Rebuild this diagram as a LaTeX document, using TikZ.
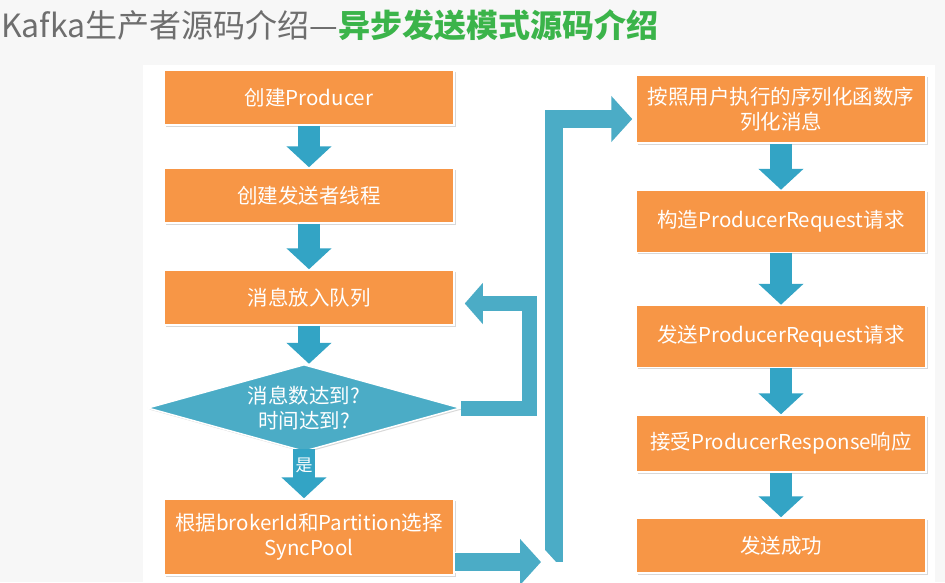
\documentclass[tikz,border=0pt]{standalone}
\usepackage{fontspec}
\setmainfont{Noto Sans CJK SC}
\usetikzlibrary{positioning}
\usetikzlibrary{shapes.geometric}
\usetikzlibrary{arrows.meta}
\usetikzlibrary{shadows}
\definecolor{boxorange}{HTML}{F79646}
\definecolor{flowblue}{HTML}{4BACC6}
\definecolor{arrowblue}{HTML}{33A4C5}
\definecolor{titlegreen}{HTML}{3BB44A}
\definecolor{titlegray}{HTML}{6E6E6E}
\definecolor{pagegray}{HTML}{F7F7F7}
\tikzset{stepbox/.style={rectangle,fill=boxorange,draw=white,line width=1.5pt,minimum width=290pt,minimum height=55pt,inner sep=2pt,align=center,text=white,font=\fontsize{20.5}{24.5}\selectfont,drop shadow={shadow xshift=1.5pt,shadow yshift=-1.5pt,opacity=0.3}}}
\tikzset{decision/.style={diamond,aspect=3.5,fill=flowblue,draw=white,line width=1.5pt,minimum width=313pt,minimum height=87pt,inner sep=0pt,align=center,text=white,font=\fontsize{20.5}{24.5}\selectfont,drop shadow={shadow xshift=1.5pt,shadow yshift=-1.5pt,opacity=0.3}}}
\tikzset{flow/.style={draw=arrowblue,line width=22pt,-{Triangle[width=44pt,length=21pt]}}}
\tikzset{loopback/.style={draw=flowblue,line width=15pt,line join=miter,-{Triangle[width=40pt,length=18pt]},shorten >=10pt,preaction={draw=white,line width=18pt,-{Triangle[width=46pt,length=21pt]},shorten >=8pt}}}
\tikzset{bus/.style={draw=flowblue,line width=18pt,preaction={draw=white,line width=21pt}}}
\tikzset{busarrow/.style={draw=flowblue,line width=18pt,-{Triangle[width=45pt,length=21pt]},preaction={draw=white,line width=21pt,-{Triangle[width=51pt,length=24pt]},shorten >=-2pt}}}

\begin{document}
\begin{tikzpicture}[x=1pt,y=1pt]
\useasboundingbox (0,0) rectangle (945,-582);
\fill[pagegray] (0,0) rectangle (945,-582);
\fill[white] (143,-65) rectangle (935,-582);

\node[anchor=west,inner sep=0pt,font=\fontsize{32}{36}\selectfont] (title) at (1,-25)
  {\textcolor{titlegray}{Kafka生产者源码介绍—}\textcolor{titlegreen}{\bfseries 异步发送模式源码介绍}};

\begin{scope}[on grid]
% left column
\node[stepbox] (create) at (309,-97.5) {创建Producer};
\node[stepbox, below=98pt of create] (sender) {创建发送者线程};
\node[stepbox, below=102pt of sender] (enqueue) {消息放入队列};
\node[decision, below=110.5pt of enqueue, xshift=-5pt] (check) {消息数达到?\\时间达到?};
\node[stepbox, minimum height=76pt, below=129pt of check, xshift=5pt] (choose) {根据brokerId和Partition选择\\SyncPool};

% right column
\node[stepbox, minimum height=68pt] (serial) at (781,-109) {按照用户执行的序列化函数序\\列化消息};
\node[stepbox, minimum height=62pt, below=112.5pt of serial] (build) {构造ProducerRequest请求};
\node[stepbox, minimum height=62pt, below=115pt of build] (send) {发送ProducerRequest请求};
\node[stepbox, minimum height=57pt, below=107pt of send] (recv) {接受ProducerResponse响应};
\node[stepbox, below=102pt of recv] (done) {发送成功};

\draw[flow] (create) -- (sender);
\draw[flow] (sender) -- (enqueue);
\draw[flow] (enqueue) -- (enqueue |- check.north);
\draw[flow, shorten <=-3pt] (check.south) -- node[pos=0.28, text=white, font=\fontsize{17}{17}\selectfont] (yes) {是} (check.south |- choose.north);
\draw[loopback] (check.east) -- ++(68pt,0pt) |- ([yshift=-6pt]enqueue.east);

\coordinate (busbot) at (554,-562);
\coordinate (bustop) at (554,-110);
\draw[bus] (busbot) -- (bustop);
\draw[busarrow, shorten >=13pt] (choose.east |- busbot) -- (busbot);
\draw[busarrow, shorten >=3pt] ([xshift=9pt,yshift=-9pt]bustop) -- ([yshift=-9pt]bustop -| serial.west);

\draw[flow] (serial) -- (build);
\draw[flow] (build) -- (send);
\draw[flow] (send) -- (recv);
\draw[flow] (recv) -- (done);
\end{scope}
\end{tikzpicture}
\end{document}
